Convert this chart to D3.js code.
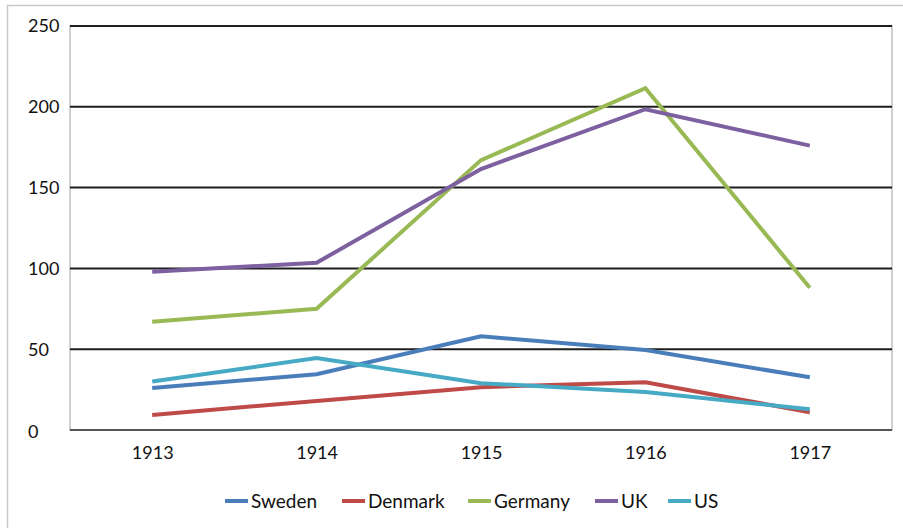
<!DOCTYPE html>
<html><head><meta charset="utf-8">
<script src="https://cdn.jsdelivr.net/npm/d3@7"></script>
<style>body{margin:0;background:#fff;}svg{display:block;font-family:Lato,"Open Sans",sans-serif;}</style>
</head><body>
<script>
const years = ["1913","1914","1915","1916","1917"];
const seriesNames = ["Sweden","Denmark","Germany","UK","US"];
const sweden  = [26, 34.5, 58, 49.5, 32.6];
const denmark = [9.3, 18, 26.5, 29.6, 11];
const germany = [67, 75, 167, 211.5, 88];
const uk      = [98, 103.5, 161.5, 198.5, 176];
const us      = [30, 44.5, 29, 23.5, 12.8];
const yTicks  = [0, 50, 100, 150, 200, 250];
const colors  = ["#4a7ebb","#be4b48","#98b954","#7d60a0","#46aac5"];
const values  = [sweden, denmark, germany, uk, us];

const W = 903, H = 528;
const svg = d3.select("body").append("svg").attr("width", W).attr("height", H);
svg.append("rect").attr("width", W).attr("height", H).attr("fill", "#fff");
// chart frame (cropped)
svg.append("path").attr("d", `M7.5,${H} V5.5 H${W}`).attr("fill","none").attr("stroke","#c8c8c8").attr("stroke-width",1.5);

const L = 70, R = 892, T = 26, B = 430;
const x = d3.scalePoint().domain(years).range([L, R]).padding(0.5);
const y = d3.scaleLinear().domain([0, 250]).range([B, T]);

// plot area border
svg.append("rect").attr("x", L).attr("y", T).attr("width", R - L).attr("height", B - T)
  .attr("fill","none").attr("stroke","#c0c0c0").attr("stroke-width",1.5);

// gridlines
svg.append("g").selectAll("line").data(yTicks.filter(d => d > 0)).join("line")
  .attr("x1", L).attr("x2", R).attr("y1", d => y(d)).attr("y2", d => y(d))
  .attr("stroke", "#1e1e1e").attr("stroke-width", 2);

// y axis labels
svg.append("g").selectAll("text").data(yTicks).join("text")
  .attr("x", 28).attr("y", d => y(d) + (d === 0 ? 2 : 0)).attr("dy","0.35em")
  .attr("font-size", 18).attr("fill", "#111").text(d => d);

// x axis
const xAxis = d3.axisBottom(x).tickSize(0).tickPadding(16);
const gx = svg.append("g").attr("transform", `translate(0,${B})`).call(xAxis);
gx.select(".domain").attr("stroke", "#555").attr("stroke-width", 2).attr("d", `M${L},0H${R}`);
gx.selectAll("text").attr("font-size", 18).attr("fill", "#111").attr("font-family","Lato,'Open Sans',sans-serif");

// lines
const line = d3.line().x((d, i) => x(years[i])).y(d => y(d));
values.forEach((vals, k) => {
  svg.append("path").datum(vals).attr("d", line).attr("fill","none")
    .attr("stroke", colors[k]).attr("stroke-width", 4).attr("stroke-linejoin","miter");
});

// legend
const legendX = [225, 342, 468, 595, 668];
const lg = svg.append("g");
seriesNames.forEach((n, k) => {
  lg.append("line").attr("x1", legendX[k]).attr("x2", legendX[k] + 23).attr("y1", 501).attr("y2", 501)
    .attr("stroke", colors[k]).attr("stroke-width", 4);
  lg.append("text").attr("x", legendX[k] + 26).attr("y", 501).attr("dy","0.35em")
    .attr("font-size", 19).attr("fill", "#111").text(n);
});
</script>
</body></html>
